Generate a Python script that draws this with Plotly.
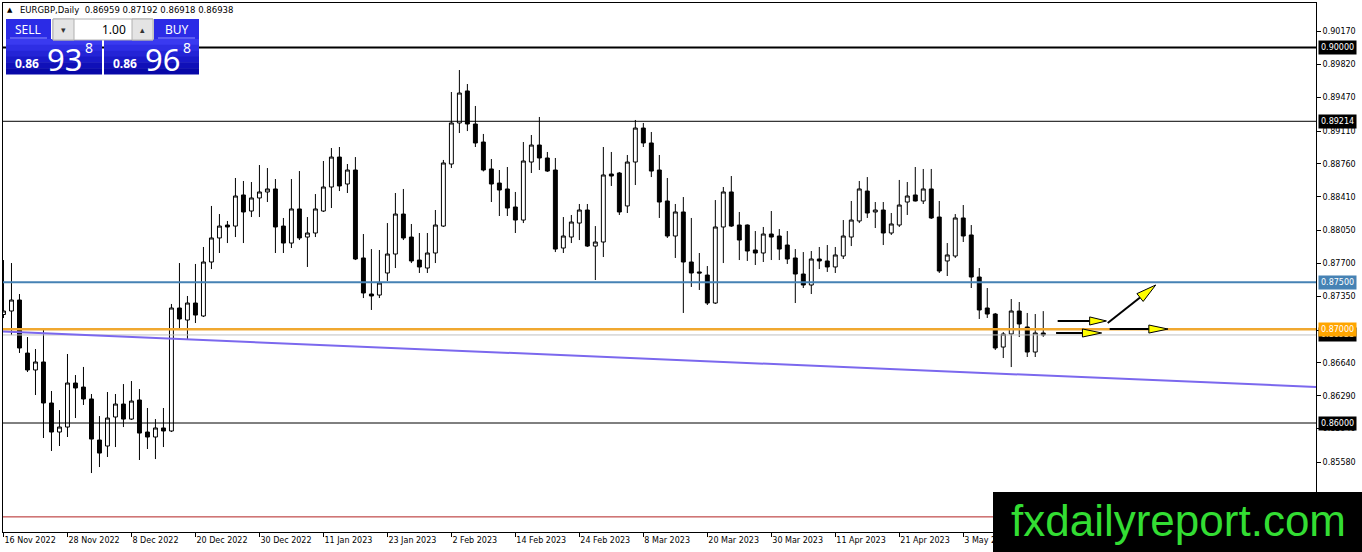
import plotly.graph_objects as go

# daily bars, 16 Nov 2022 .. 17 May 2023 (weekdays only, bar index on x)
opens = [0.87156, 0.87193, 0.87310, 0.86745, 0.86565, 0.86650, 0.86213, 0.85904, 0.85957, 0.86426,
         0.86383, 0.86256, 0.85819, 0.85755, 0.86064, 0.86202, 0.86042, 0.86245, 0.85904, 0.85851,
         0.85947, 0.85915, 0.87225, 0.87097, 0.87278, 0.87140, 0.87715, 0.87971, 0.88109, 0.88098,
         0.88429, 0.88258, 0.88397, 0.88461, 0.88493, 0.88098, 0.87917, 0.88280, 0.87981, 0.88024,
         0.88258, 0.88514, 0.88833, 0.88546, 0.88695, 0.87758, 0.87374, 0.87363, 0.87598, 0.87800,
         0.88226, 0.87981, 0.87736, 0.87651, 0.87811, 0.88098, 0.88759, 0.89196, 0.89537, 0.89185,
         0.88993, 0.88706, 0.88556, 0.88493, 0.88301, 0.88162, 0.88780, 0.88961, 0.88823, 0.88695,
         0.87864, 0.87981, 0.88130, 0.88269, 0.87885, 0.87928, 0.88652, 0.88663, 0.88312, 0.88780,
         0.89142, 0.88983, 0.88695, 0.88365, 0.87992, 0.88248, 0.87715, 0.87609, 0.87576, 0.87278,
         0.88088, 0.88461, 0.88109, 0.88109, 0.87843, 0.87811, 0.88013, 0.87992, 0.87896, 0.87758,
         0.87587, 0.87470, 0.87747, 0.87726, 0.87662, 0.87779, 0.87981, 0.88152, 0.88471, 0.88248,
         0.88269, 0.88024, 0.88109, 0.88354, 0.88429, 0.88365, 0.88493, 0.88194, 0.87726, 0.87779,
         0.88184, 0.88003, 0.87555, 0.87225, 0.87161, 0.86809, 0.86948, 0.87193, 0.87023, 0.86756,
         0.86959]
highs = [0.87736, 0.87704, 0.87374, 0.86916, 0.86788, 0.86991, 0.86341, 0.86138, 0.86735, 0.86511,
         0.86597, 0.86309, 0.86074, 0.86330, 0.86309, 0.86415, 0.86447, 0.86362, 0.86160, 0.86042,
         0.86160, 0.87268, 0.87704, 0.87353, 0.87694, 0.87875, 0.88312, 0.88226, 0.88152, 0.88610,
         0.88578, 0.88567, 0.88748, 0.88716, 0.88599, 0.88184, 0.88599, 0.88684, 0.88194, 0.88439,
         0.88791, 0.88929, 0.88940, 0.88759, 0.88833, 0.88013, 0.87853, 0.87843, 0.88130, 0.88450,
         0.88493, 0.88120, 0.88024, 0.88024, 0.88269, 0.88802, 0.89526, 0.89760, 0.89611, 0.89377,
         0.89079, 0.88812, 0.88695, 0.88727, 0.88461, 0.88993, 0.89068, 0.89260, 0.88887, 0.88823,
         0.88194, 0.88216, 0.88333, 0.88333, 0.88098, 0.88940, 0.88887, 0.88674, 0.88855, 0.89228,
         0.89196, 0.89100, 0.88855, 0.88610, 0.88333, 0.88407, 0.88184, 0.87811, 0.87672, 0.88375,
         0.88514, 0.88631, 0.88248, 0.88115, 0.88045, 0.88088, 0.88258, 0.88066, 0.88045, 0.87853,
         0.87821, 0.87832, 0.87875, 0.87896, 0.87875, 0.88162, 0.88365, 0.88578, 0.88620, 0.88354,
         0.88354, 0.88237, 0.88589, 0.88567, 0.88727, 0.88706, 0.88706, 0.88365, 0.87917, 0.88226,
         0.88322, 0.88109, 0.87651, 0.87438, 0.87172, 0.86969, 0.87321, 0.87289, 0.87172, 0.87161,
         0.87192]
lows = [0.87118, 0.86937, 0.86746, 0.86543, 0.86298, 0.85840, 0.85702, 0.85755, 0.85851, 0.86053,
        0.86192, 0.85467, 0.85531, 0.85638, 0.85744, 0.85957, 0.86032, 0.85606, 0.85723, 0.85616,
        0.85744, 0.85904, 0.87001, 0.86895, 0.87065, 0.87129, 0.87640, 0.87811, 0.87917, 0.87981,
        0.87917, 0.88194, 0.88194, 0.88354, 0.87811, 0.87811, 0.87864, 0.87949, 0.87662, 0.87981,
        0.88248, 0.88290, 0.88471, 0.88450, 0.87736, 0.87331, 0.87204, 0.87331, 0.87513, 0.87651,
        0.87949, 0.87704, 0.87598, 0.87598, 0.87704, 0.88088, 0.88716, 0.89089, 0.89110, 0.88940,
        0.88680, 0.88354, 0.88205, 0.88205, 0.88024, 0.88130, 0.88663, 0.88695, 0.88674, 0.87821,
        0.87811, 0.87917, 0.87949, 0.87875, 0.87523, 0.87768, 0.88525, 0.88216, 0.88237, 0.88535,
        0.88940, 0.88620, 0.88184, 0.87971, 0.87758, 0.87172, 0.87449, 0.87417, 0.87257, 0.87268,
        0.87704, 0.88088, 0.87736, 0.87726, 0.87683, 0.87715, 0.87736, 0.87736, 0.87694, 0.87278,
        0.87438, 0.87374, 0.87640, 0.87609, 0.87598, 0.87747, 0.87885, 0.88130, 0.88184, 0.88077,
        0.87896, 0.88003, 0.88088, 0.88216, 0.88360, 0.88333, 0.88173, 0.87598, 0.87566, 0.87758,
        0.87928, 0.87438, 0.87108, 0.87119, 0.86778, 0.86692, 0.86596, 0.86916, 0.86703, 0.86703,
        0.86918]
closes = [0.87193, 0.87310, 0.86799, 0.86565, 0.86650, 0.86213, 0.85904, 0.85957, 0.86426, 0.86373,
          0.86256, 0.85829, 0.85680, 0.86053, 0.86202, 0.86042, 0.86234, 0.85893, 0.85851, 0.85947,
          0.85915, 0.87225, 0.87108, 0.87278, 0.87150, 0.87715, 0.87971, 0.88098, 0.88088, 0.88418,
          0.88248, 0.88397, 0.88461, 0.88493, 0.88088, 0.87917, 0.88280, 0.87971, 0.88024, 0.88280,
          0.88514, 0.88833, 0.88525, 0.88695, 0.87747, 0.87385, 0.87353, 0.87491, 0.87800, 0.88226,
          0.87971, 0.87726, 0.87662, 0.87811, 0.88109, 0.88770, 0.89196, 0.89515, 0.89185, 0.88983,
          0.88695, 0.88546, 0.88482, 0.88290, 0.88162, 0.88791, 0.88961, 0.88823, 0.88684, 0.87853,
          0.87992, 0.88141, 0.88269, 0.87885, 0.87928, 0.88642, 0.88631, 0.88248, 0.88780, 0.89142,
          0.88983, 0.88684, 0.88354, 0.87992, 0.88248, 0.87715, 0.87598, 0.87598, 0.87278, 0.88088,
          0.88461, 0.88098, 0.87949, 0.87832, 0.87811, 0.88013, 0.87981, 0.87853, 0.87747, 0.87587,
          0.87470, 0.87747, 0.87726, 0.87662, 0.87790, 0.87992, 0.88162, 0.88493, 0.88237, 0.88269,
          0.88024, 0.88120, 0.88322, 0.88418, 0.88365, 0.88493, 0.88184, 0.87619, 0.87790, 0.88184,
          0.87992, 0.87555, 0.87204, 0.87161, 0.86799, 0.86948, 0.87193, 0.87055, 0.86756, 0.86959,
          0.86938]
bar_index = list(range(len(opens)))

date_ticks = [0, 8, 16, 24, 32, 40, 48, 56, 64, 72, 80, 88, 96, 104, 112, 120]
date_labels = ["16 Nov 2022", "28 Nov 2022", "8 Dec 2022", "20 Dec 2022", "30 Dec 2022",
               "11 Jan 2023", "23 Jan 2023", "2 Feb 2023", "14 Feb 2023", "24 Feb 2023",
               "8 Mar 2023", "20 Mar 2023", "30 Mar 2023", "11 Apr 2023", "21 Apr 2023",
               "3 May 2023"]
price_ticks = [0.90170, 0.89820, 0.89470, 0.89110, 0.88760, 0.88410, 0.88050, 0.87700,
               0.87350, 0.86990, 0.86640, 0.86290, 0.85940, 0.85580]

# horizontal levels: price, colour, width
levels = [(0.90000, "black", 2), (0.89214, "black", 1), (0.87500, "#4682B4", 2),
          (0.87000, "#F0A830", 2.5), (0.86938, "#C0C0C0", 1), (0.86000, "black", 1),
          (0.85000, "#B22222", 1)]
# boxed labels on the price scale: price, background
price_boxes = [(0.90000, "black"), (0.89214, "black"), (0.87500, "#4682B4"),
               (0.86938, "black"), (0.87000, "#FFA500"), (0.86000, "black")]
trend_start = (-0.06, 0.86974)
trend_end = (164.1, 0.86384)
ohlc_text = "EURGBP,Daily  0.86959 0.87192 0.86918 0.86938"

# plot area in page pixels
L, R, T, B = 3, 1316, 3, 532
W, H = R - L, B - T


def px(x):
    return (x - L) / W


def py(y):
    return (B - y) / H


fig = go.Figure()
fig.add_trace(go.Candlestick(
    x=bar_index, open=opens, high=highs, low=lows, close=closes,
    increasing=dict(line=dict(color="black", width=1), fillcolor="white"),
    decreasing=dict(line=dict(color="black", width=1), fillcolor="black"),
    whiskerwidth=0, showlegend=False, hoverinfo="skip"))

shapes = []
for p, c, w in levels:
    shapes.append(dict(type="line", xref="paper", yref="y", x0=0, x1=1, y0=p, y1=p,
                       line=dict(color=c, width=w)))
shapes.append(dict(type="line", xref="x", yref="y", x0=trend_start[0], y0=trend_start[1],
                   x1=trend_end[0], y1=trend_end[1], line=dict(color="#7B68EE", width=2)))

# arrows drawn on the chart (line + yellow head)
arrows = [
    ((131.8, 0.87087), (135.8, 0.87087), [(135.8, 0.87130), (137.9, 0.87087), (135.8, 0.87044)]),
    ((131.6, 0.86959), (134.9, 0.86959), [(134.9, 0.87002), (137.3, 0.86959), (134.9, 0.86916)]),
    ((138.06, 0.87065), (142.1, 0.87337), [(142.49, 0.87295), (144.06, 0.87470), (141.71, 0.87378)]),
    ((138.3, 0.87001), (143.2, 0.87001), [(143.2, 0.87044), (145.6, 0.87001), (143.2, 0.86958)]),
]
for a, b, tri in arrows:
    shapes.append(dict(type="line", xref="x", yref="y", x0=a[0], y0=a[1], x1=b[0], y1=b[1],
                       line=dict(color="black", width=2)))
    path = "M {} {} L {} {} L {} {} Z".format(*[v for pt in tri for v in pt])
    shapes.append(dict(type="path", xref="x", yref="y", path=path, fillcolor="#FFFF00",
                       line=dict(color="black", width=1)))


def rect(x0, y0, x1, y1, fill, line=None):
    shapes.append(dict(type="rect", xref="paper", yref="paper", x0=px(x0), x1=px(x1),
                       y0=py(y1), y1=py(y0), fillcolor=fill,
                       line=dict(color=line or fill, width=1 if line else 0)))


# one-click trading panel
band_cols = ["#3a3af0", "#2e2ee4", "#2424d6", "#1a1ac8", "#1010b8", "#0808a8"]
for x0, x1 in [(6, 51), (154, 199)]:
    rect(x0, 19, x1, 39, "#2b2be6")
    shapes.append(dict(type="line", xref="paper", yref="paper", x0=px(x0 + 4), x1=px(x1 - 4),
                       y0=py(38), y1=py(38), line=dict(color="#9090ff", width=1)))
for x0, x1 in [(6, 102), (104, 199)]:
    for k, col in enumerate(band_cols):
        rect(x0, 39 + k * 35 / 6, x1, 39 + (k + 1) * 35 / 6 + 0.5, col)
rect(53, 19, 153, 40, "white", "#b0b0b0")
rect(53, 19, 74, 40, "#e4e4e4", "#b0b0b0")
rect(132, 19, 153, 40, "#e4e4e4", "#b0b0b0")

# watermark box
rect(993, 492, 1362, 552, "black")

ann = []
for p, bg in price_boxes:
    ann.append(dict(x=1, xref="paper", xanchor="left", xshift=2, y=p, yref="y", yanchor="middle",
                    text="{:.5f}".format(p), showarrow=False, bgcolor=bg, borderpad=2,
                    font=dict(family="DejaVu Sans", size=8, color="white")))


def label(x, y, text, size, color="white", anchor="center", family="Noto Sans", bold=False):
    ann.append(dict(x=px(x), y=py(y), xref="paper", yref="paper", xanchor=anchor,
                    yanchor="middle", showarrow=False,
                    text="<b>" + text + "</b>" if bold else text,
                    font=dict(family=family, size=size, color=color)))


label(5, 10, "▲", 7, "black", "left", "DejaVu Sans")
label(18, 10, ohlc_text, 8.5, "black", "left", "DejaVu Sans")
label(28, 29, "SELL", 12)
label(177, 29, "BUY", 12)
label(128, 29, "1.00", 12, "black", "right")
label(63.5, 29, "▾", 9, "#333333")
label(142.5, 29, "▴", 9, "#333333")
label(27, 64, "0.86", 12, bold=True)
label(64, 59, "93", 31)
label(89, 47, "8", 14)
label(125, 64, "0.86", 12, bold=True)
label(162, 59, "96", 31)
label(187, 47, "8", 14)
label(1178, 520, "fxdailyreport.com", 44, "#33dd33", "center", "Liberation Sans")

fig.update_layout(
    width=1362, height=552,
    margin=dict(l=L, r=1362 - R, t=T, b=552 - B),
    paper_bgcolor="white", plot_bgcolor="white",
    showlegend=False, hovermode=False,
    shapes=shapes, annotations=ann,
    xaxis=dict(range=[-0.06, 164.1], rangeslider=dict(visible=False), showgrid=False,
               zeroline=False, showline=True, linecolor="black", linewidth=1, mirror=True,
               ticks="outside", ticklen=4, tickcolor="black",
               tickvals=date_ticks, ticktext=date_labels, ticklabelposition="outside right",
               tickfont=dict(family="DejaVu Sans", size=8, color="black")),
    yaxis=dict(range=[0.84839, 0.90474], side="right", showgrid=False, zeroline=False,
               showline=True, linecolor="black", linewidth=1, mirror=True,
               ticks="outside", ticklen=4, tickcolor="black",
               tickvals=price_ticks, ticktext=["{:.5f}".format(v) for v in price_ticks],
               tickfont=dict(family="DejaVu Sans", size=8, color="black")),
)

fig.write_html("out.html", config={"displayModeBar": False},
               post_script="document.body.style.margin='0px';document.body.style.overflow='hidden';")
